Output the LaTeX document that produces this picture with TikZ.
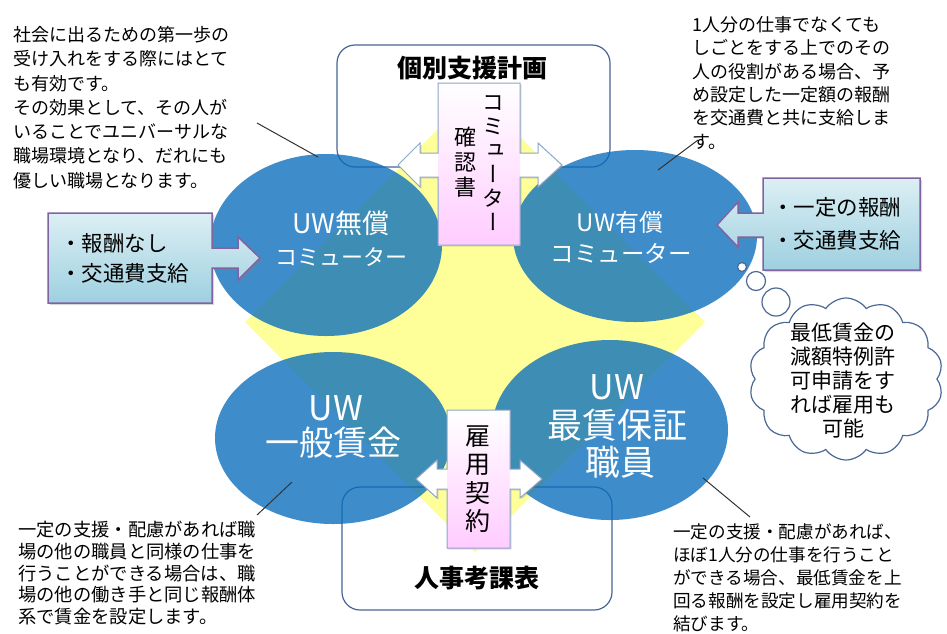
\documentclass[tikz,border=0pt]{standalone}
\usepackage{fontspec}
\usepackage{graphicx}
\usetikzlibrary{shapes.geometric,shapes.symbols,shadows}
\newfontfamily\jp{Noto Sans CJK JP}
\newfontfamily\jpv[RawFeature=+vert]{Noto Sans CJK JP}
\definecolor{diayellow}{RGB}{255,255,153}
\definecolor{ellblue}{RGB}{8,109,188}
\definecolor{boxline}{RGB}{70,100,150}
\definecolor{calloutline}{RGB}{140,165,200}
\definecolor{calloutpink}{RGB}{255,204,255}
\definecolor{sideline}{RGB}{128,100,162}
\definecolor{sidetop}{RGB}{220,239,244}
\definecolor{sidebot}{RGB}{158,208,224}
\definecolor{cloudline}{RGB}{75,105,150}
\def\topcalloutpath{(438,83) -- (520,83) -- (520,153) -- (538,153) -- (538,143) -- (562,165) -- (538,187) -- (538,177)
  -- (520,177) -- (520,245) -- (438,245) -- (438,177) -- (420,177) -- (420,187) -- (398,165) -- (420,143)
  -- (420,153) -- (438,153) -- cycle}
\def\botcalloutpath{(447,410) -- (510,410) -- (510,469) -- (520,469) -- (520,460) -- (542,479) -- (520,498) -- (520,489)
  -- (510,489) -- (510,548) -- (447,548) -- (447,489) -- (437,489) -- (437,498) -- (416,479) -- (437,460)
  -- (437,469) -- (447,469) -- cycle}
\begin{document}
\begin{tikzpicture}[x=1pt,y=-1pt,
  planbox/.style={draw=boxline,line width=1.2pt,rounded corners=18pt,inner sep=0pt},
  titletext/.style={font=\jp\bfseries\fontsize{25}{28}\selectfont,inner sep=0pt},
  uwell/.style={ellipse,fill=ellblue,fill opacity=0.78,inner sep=0pt},
  elltext/.style={text=white,inner sep=0pt,align=center},
  centercallout/.style={fill=white,
     drop shadow={shadow xshift=1.5pt,shadow yshift=-1.5pt,opacity=0.25}},
  calloutbody/.style={top color=white,middle color=white,bottom color=calloutpink},
  calloutedge/.style={draw=calloutline,line width=1pt},
  sidecallout/.style={draw=sideline,line width=1.5pt,top color=sidetop,bottom color=sidebot,
     drop shadow={shadow xshift=2pt,shadow yshift=-2pt,opacity=0.3}},
  notetext/.style={font=\jp\fontsize{18}{24.3}\selectfont,anchor=north west,align=left,inner sep=0pt},
  leader/.style={draw=black!80,line width=1pt},
  bubble/.style={circle,draw=cloudline,line width=1.2pt,fill=white,inner sep=0pt}
]
\useasboundingbox (0,0) rectangle (947,633);
\fill[white] (0,0) rectangle (947,633);

% yellow diamond
\fill[diayellow] (245,322) -- (475,92) -- (705,322) -- (475,552) -- cycle;

% plan boxes
\node[planbox,minimum width=273pt,minimum height=122pt] (plan) at (473.5,106) {};
\node[planbox,minimum width=270pt,minimum height=123pt] (eval) at (477,548.5) {};
\node[titletext] (plantitle) at (472,68) {個別支援計画};
\node[titletext] (evaltitle) at (477,578) {人事考課表};

% ellipses
\node[uwell,minimum width=232pt,minimum height=182pt] (tl) at (326,245) {};
\node[uwell,minimum width=244pt,minimum height=172pt] (tr) at (635,236) {};
\node[uwell,minimum width=236pt,minimum height=172pt] (bl) at (333,438) {};
\node[uwell,minimum width=236pt,minimum height=180pt] (br) at (610,430) {};

\node[elltext,font=\jp\fontsize{27}{30}\selectfont] (tlt1) at (341,223) {UW無償};
\node[elltext,font=\jp\fontsize{22}{24}\selectfont] (tlt2) at (341,257) {コミューター};
\node[elltext,font=\jp\fontsize{24}{26}\selectfont] (trt1) at (620,222) {UW有償};
\node[elltext,font=\jp\fontsize{23.5}{26}\selectfont] (trt2) at (621,253) {コミューター};
\node[elltext,font=\jp\fontsize{34}{35}\selectfont] (blt1) at (336,408) {UW};
\node[elltext,font=\jp\fontsize{34}{35}\selectfont] (blt2) at (333,443) {一般賃金};
\node[elltext,font=\jp\fontsize{34}{38}\selectfont] (brt1) at (617,387) {UW};
\node[elltext,font=\jp\fontsize{35}{38}\selectfont] (brt2) at (617,425) {最賃保証};
\node[elltext,font=\jp\fontsize{35}{38}\selectfont] (brt3) at (620,462) {職員};

% central callouts
\path[centercallout] \topcalloutpath;
\path[calloutbody] (438,83) rectangle (520,245);
\path[calloutedge] \topcalloutpath;
\node[inner sep=0pt,align=center,font=\jpv\fontsize{22}{24}\selectfont] (cc1) at (493,163) {コ\\ミ\\ュ\\ー\\タ\\ー};
\node[inner sep=0pt,align=center,font=\jpv\fontsize{22}{25}\selectfont] (cc2) at (465,162) {確\\認\\書};

\path[centercallout] \botcalloutpath;
\path[calloutbody] (447,410) rectangle (510,548);
\path[calloutedge] \botcalloutpath;
\node[inner sep=0pt,align=center,font=\jpv\fontsize{25}{28.5}\selectfont] (emp) at (478,479) {雇\\用\\契\\約};

% side callouts
\path[sidecallout] (48,213) -- (212,213) -- (212,248) -- (238,248) -- (238,237) -- (260,258) -- (238,280) -- (238,268)
  -- (212,268) -- (212,303) -- (48,303) -- cycle;
\node[anchor=west,align=left,inner sep=0pt,font=\jp\fontsize{21.5}{30}\selectfont] (leftnote) at (60,258) {・報酬なし\\・交通費支給};
\path[sidecallout] (920,178) -- (763,178) -- (763,213) -- (738,213) -- (738,202) -- (717,225) -- (738,247) -- (738,237)
  -- (763,237) -- (763,270) -- (920,270) -- cycle;
\node[anchor=west,align=left,inner sep=0pt,font=\jp\fontsize{21.5}{33}\selectfont] (rightnote) at (772,224) {・一定の報酬\\・交通費支給};

% cloud
\node[bubble,minimum size=9pt] (bub1) at (742,267) {};
\node[bubble,minimum size=19pt] (bub2) at (756,281) {};
\node[cloud,draw=cloudline,line width=1.2pt,fill=white,cloud puffs=14,cloud puff arc=110,cloud ignores aspect,
   minimum width=194pt,minimum height=162pt,inner sep=0pt] (cloud) at (846,379) {};
\node[bubble,minimum size=28pt] (bub3) at (776,302) {};
\node[inner sep=0pt,align=center,font=\jp\fontsize{21}{24}\selectfont] (cloudtext) at (843,380)
  {最低賃金の\\減額特例許\\可申請をす\\れば雇用も\\可能};

% notes
\node[notetext] (note1) at (13,26) {社会に出るための第一歩の\\受け入れをする際にはとて\\も有効です。\\その効果として、その人が\\いることでユニバーサルな\\職場環境となり、だれにも\\優しい職場となります。};
\node[notetext,font=\jp\fontsize{18}{23.4}\selectfont] (note2) at (692,16) {1人分の仕事でなくても\\しごとをする上でのその\\人の役割がある場合、予\\め設定した一定額の報酬\\を交通費と共に支給しま\\す。};
\node[notetext,font=\jp\fontsize{18.3}{21.75}\selectfont] (note3) at (18,521) {一定の支援・配慮があれば職\\場の他の職員と同様の仕事を\\行うことができる場合は、職\\場の他の働き手と同じ報酬体\\系で賃金を設定します。};
\node[notetext,font=\jp\fontsize{17.6}{23}\selectfont] (note4) at (673,523) {一定の支援・配慮があれば、\\ほぼ1人分の仕事を行うこと\\ができる場合、最低賃金を上\\回る報酬を設定し雇用契約を\\結びます。};

% leader lines
\coordinate (l1a) at (257,123); \coordinate (l1b) at (318,157);
\coordinate (l2a) at (698,140); \coordinate (l2b) at (658,170);
\coordinate (l3a) at (257,515); \coordinate (l3b) at (292,482);
\coordinate (l4a) at (703,478); \coordinate (l4b) at (750,517);
\draw[leader] (l1a) -- (l1b);
\draw[leader] (l2a) -- (l2b);
\draw[leader] (l3a) -- (l3b);
\draw[leader] (l4a) -- (l4b);
\end{tikzpicture}
\end{document}
